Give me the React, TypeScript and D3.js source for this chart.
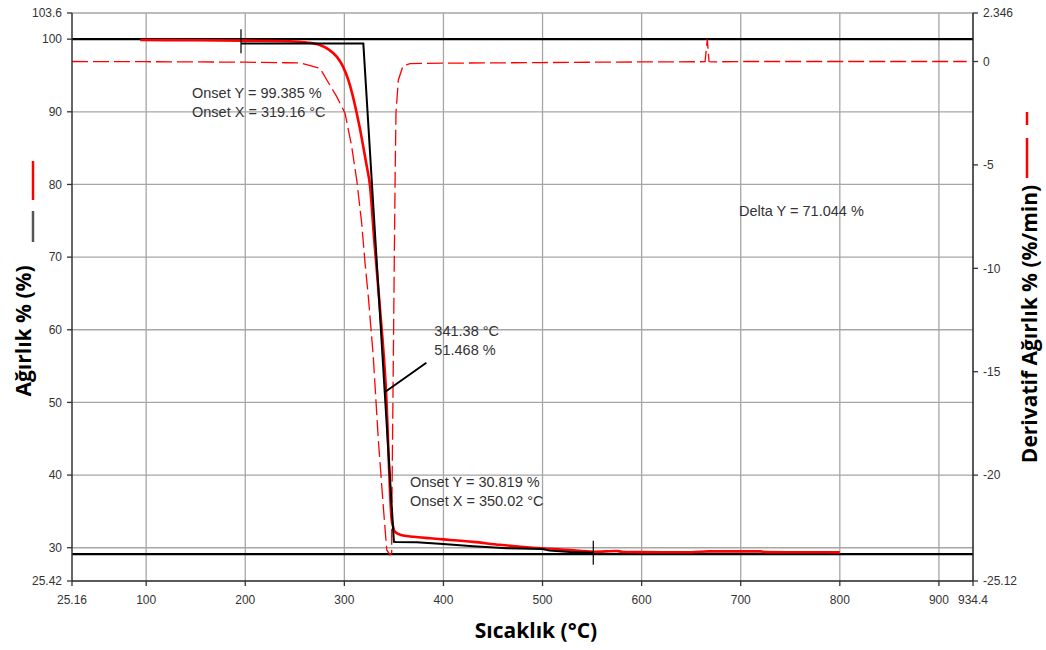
import React from "react";
import * as d3 from "d3";

// ---------- data ----------
const xTicks = [25.16, 100, 200, 300, 400, 500, 600, 700, 800, 900, 934.4];
const xTickLabels = ["25.16", "100", "200", "300", "400", "500", "600", "700", "800", "900", "934.4"];
const yLeftTicks = [25.42, 30, 40, 50, 60, 70, 80, 90, 100, 103.6];
const yLeftTickLabels = ["25.42", "30", "40", "50", "60", "70", "80", "90", "100", "103.6"];
const yRightTicks = [-25.12, -20, -15, -10, -5, 0, 2.346];
const yRightTickLabels = ["-25.12", "-20", "-15", "-10", "-5", "0", "2.346"];
const gridX = [100, 200, 300, 400, 500, 600, 700, 800, 900];
const gridY = [30, 40, 50, 60, 70, 80, 90, 100, 103.6];

// red solid weight curve (left axis)
const weightTemp = [94, 150, 200, 245, 262, 275.4, 284, 292.3, 298, 304, 308.5, 312.5, 316, 319.1, 322.5, 325.9, 330, 335.3, 342, 347.8, 349.2, 350.1, 352, 356.2, 370, 386.5, 400, 430, 457.1, 490, 524.7, 552, 575, 580, 600, 650, 668, 720, 725, 760, 800];
const weightPct = [99.88, 99.85, 99.8, 99.72, 99.55, 99.2, 98.6, 97.6, 96.4, 94.4, 92.2, 89.8, 87.5, 85.2, 82.6, 79.8, 72.6, 64.0, 51.7, 33.8, 32.9, 32.4, 32.1, 31.8, 31.5, 31.3, 31.15, 30.8, 30.4, 30.0, 29.7, 29.45, 29.55, 29.45, 29.4, 29.38, 29.5, 29.5, 29.4, 29.38, 29.36];

// black analysis curve (left axis)
const blackTemp = [195.7, 319.16, 350.02, 352, 372.9, 399.6, 430, 464.2, 500, 507, 528, 552];
const blackPct = [99.385, 99.385, 30.819, 30.8, 30.75, 30.5, 30.2, 29.92, 29.82, 29.6, 29.42, 29.3];

// derivative curve (right axis, dashed)
const derivTemp = [25.16, 100, 150, 200, 240, 255.3, 275.4, 292.3, 300.7, 307.4, 312.5, 317.5, 320.9, 324.2, 329.2, 334.3, 339.3, 342.8, 346.1, 347.8, 347.8, 348.8, 350.1, 351.2, 352.1, 354.5, 359.2, 366.3, 400, 500, 600, 664, 666.3, 668, 670, 700, 800, 928];
const derivVal = [0.0, -0.01, -0.02, -0.03, -0.06, -0.07, -0.33, -1.7, -2.5, -4.11, -5.73, -7.82, -9.75, -11.37, -14.27, -18.3, -21.52, -23.62, -23.86, -23.77, -22.33, -17.48, -11.05, -5.73, -2.49, -0.89, -0.21, -0.1, -0.08, -0.05, -0.02, -0.01, 1.07, 0.0, -0.02, 0.0, 0.0, 0.0];

// horizontal delta-Y reference lines (left axis)
const deltaLines = [100.0, 29.13];
// range marker positions [temp, weight]
const markerTemp = [195.7, 551.2];
const markerPct = [99.7, 29.3];

// annotations
const onsetStart = { temp: 319.16, pct: 99.385 };
const onsetEnd = { temp: 350.02, pct: 30.819 };
const inflection = { temp: 341.38, pct: 51.468 };
const deltaY = 71.044;

// ---------- layout ----------
const W = 1046, H = 650;
const L = 72, R = 973, T = 13, B = 581;

export default function App() {
  const x = d3.scaleLinear().domain([25.16, 934.4]).range([L, R]);
  const yL = d3.scaleLinear().domain([25.42, 103.6]).range([B, T]);
  const yR = d3.scaleLinear().domain([-25.12, 2.346]).range([B, T]);

  const lineL = d3.line<[number, number]>().x(d => x(d[0])).y(d => yL(d[1]));
  const lineSmooth = d3.line<[number, number]>().x(d => x(d[0])).y(d => yL(d[1])).curve(d3.curveMonotoneX);
  const lineR = d3.line<[number, number]>().x(d => x(d[0])).y(d => yR(d[1]));

  const redPts = weightTemp.map((t, i) => [t, weightPct[i]] as [number, number]);
  const blackPts = blackTemp.map((t, i) => [t, blackPct[i]] as [number, number]);
  const derivPts = derivTemp.map((t, i) => [t, derivVal[i]] as [number, number]);

  const tickFont = "'Liberation Sans', Arial, sans-serif";
  const titleFont = "'Open Sans', 'Noto Sans', sans-serif";
  const tc = "#333";
  const annSize = 14.5;

  const ix = x(inflection.temp), iy = yL(inflection.pct);

  return (
    <svg width={W} height={H} style={{ position: "absolute", left: 0, top: 0, display: "block", background: "#fff" }}>
      {/* grid */}
      {gridX.map(v => (
        <line key={"gx" + v} x1={x(v)} x2={x(v)} y1={T} y2={B} stroke="#a6a6a6" strokeWidth={1.3} />
      ))}
      {gridY.map(v => (
        <line key={"gy" + v} x1={L} x2={R} y1={yL(v)} y2={yL(v)} stroke="#a6a6a6" strokeWidth={1.3} />
      ))}

      {/* delta Y reference lines */}
      {deltaLines.map(v => (
        <line key={"dl" + v} x1={L} x2={R} y1={yL(v)} y2={yL(v)} stroke="#000" strokeWidth={2.2} />
      ))}

      {/* derivative dashed */}
      <path d={lineR(derivPts) || ""} fill="none" stroke="#ff0000" strokeWidth={1.3} strokeDasharray="16,5" />

      {/* weight red */}
      <path d={lineSmooth(redPts) || ""} fill="none" stroke="#ff0000" strokeWidth={2.6} strokeLinejoin="round" />

      {/* black analysis curve */}
      <path d={lineL(blackPts) || ""} fill="none" stroke="#000" strokeWidth={2} />

      {/* range markers */}
      {markerTemp.map((t, i) => (
        <line key={"mk" + i} x1={x(t)} x2={x(t)} y1={yL(markerPct[i]) - 12} y2={yL(markerPct[i]) + 12} stroke="#000" strokeWidth={1.2} />
      ))}

      {/* inflection leader */}
      <line x1={ix} x2={ix + 41} y1={iy} y2={iy - 29} stroke="#000" strokeWidth={2} />

      {/* axes */}
      <line x1={L} x2={L} y1={T} y2={B} stroke="#333" strokeWidth={1.5} />
      <line x1={L} x2={R} y1={B} y2={B} stroke="#222" strokeWidth={1.5} />
      <line x1={R} x2={R} y1={T} y2={B} stroke="#222" strokeWidth={1.5} />

      {/* left ticks */}
      {yLeftTicks.map((v, i) => (
        <g key={"yl" + v}>
          <line x1={L - 5} x2={L} y1={yL(v)} y2={yL(v)} stroke="#333" strokeWidth={1.3} />
          <text x={L - 10} y={yL(v)} dy="0.35em" textAnchor="end" fontFamily={tickFont} fontSize={12} fill={tc}>{yLeftTickLabels[i]}</text>
        </g>
      ))}
      {/* right ticks */}
      {yRightTicks.map((v, i) => (
        <g key={"yr" + v}>
          <line x1={R} x2={R + 5} y1={yR(v)} y2={yR(v)} stroke="#333" strokeWidth={1.3} />
          <text x={R + 10} y={yR(v)} dy="0.35em" textAnchor="start" fontFamily={tickFont} fontSize={12} fill={tc}>{yRightTickLabels[i]}</text>
        </g>
      ))}
      {/* x ticks */}
      {xTicks.map((v, i) => (
        <g key={"xt" + v}>
          <line x1={x(v)} x2={x(v)} y1={B} y2={B + 5} stroke="#333" strokeWidth={1.3} />
          <text x={x(v)} y={B + 23} textAnchor="middle" fontFamily={tickFont} fontSize={12} fill={tc}>{xTickLabels[i]}</text>
        </g>
      ))}

      {/* annotations */}
      <g fontFamily={tickFont} fontSize={annSize} fill={tc}>
        <text x={192} y={98}>{`Onset Y = ${onsetStart.pct.toFixed(3)} %`}</text>
        <text x={192} y={117}>{`Onset X = ${onsetStart.temp.toFixed(2)} °C`}</text>
        <text x={ix + 49} y={iy - 56}>{`${inflection.temp.toFixed(2)} °C`}</text>
        <text x={ix + 49} y={iy - 37}>{`${inflection.pct.toFixed(3)} %`}</text>
        <text x={410} y={487}>{`Onset Y = ${onsetEnd.pct.toFixed(3)} %`}</text>
        <text x={410} y={506}>{`Onset X = ${onsetEnd.temp.toFixed(2)} °C`}</text>
        <text x={739} y={216}>{`Delta Y = ${deltaY.toFixed(3)} %`}</text>
      </g>

      {/* titles */}
      <text x={536} y={638} textAnchor="middle" fontFamily={titleFont} fontWeight="bold" fontSize={21} fill="#000">Sıcaklık (°C)</text>
      <text transform="translate(31,331) rotate(-90)" textAnchor="middle" fontFamily={titleFont} fontWeight="bold" fontSize={21} fill="#000">Ağırlık % (%)</text>
      <text transform="translate(1037,324) rotate(-90)" textAnchor="middle" fontFamily={titleFont} fontWeight="bold" fontSize={21} fill="#000">Derivatif Ağırlık % (%/min)</text>

      {/* legend markers */}
      <line x1={33} x2={33} y1={161} y2={200} stroke="#ff0000" strokeWidth={2.5} />
      <line x1={33} x2={33} y1={211} y2={242} stroke="#555" strokeWidth={2.5} />
      <line x1={1027} x2={1027} y1={112} y2={178} stroke="#ff0000" strokeWidth={2.5} strokeDasharray="13,13,40" />
    </svg>
  );
}
